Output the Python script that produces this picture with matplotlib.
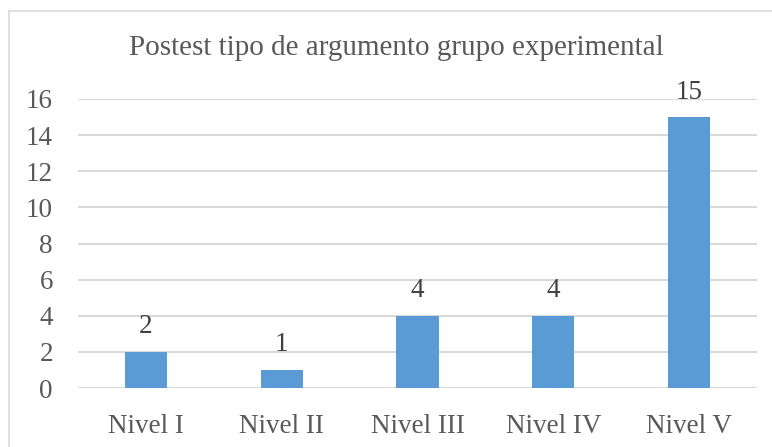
import matplotlib.pyplot as plt
from matplotlib.lines import Line2D

categories = ["Nivel I", "Nivel II", "Nivel III", "Nivel IV", "Nivel V"]
values = [2, 1, 4, 4, 15]
title = "Postest tipo de argumento grupo experimental"

plt.rcParams["font.family"] = ["Liberation Serif", "DejaVu Serif"]

fig = plt.figure(figsize=(7.72, 4.47), dpi=100)
ax = fig.add_axes([78 / 772, 1 - 388 / 447, 679 / 772, 289 / 447])

x = range(len(categories))
bars = ax.bar(x, values, width=0.31, color="#5B9BD5", zorder=3)
for b, v in zip(bars, values):
    ax.annotate(str(v), (b.get_x() + b.get_width() / 2, v), xytext=(0, 9),
                textcoords="offset points", ha="center", va="bottom",
                fontsize=19.5, color="#404040")

ax.set_xlim(-0.5, len(categories) - 0.5)
ax.set_ylim(0, 16)
ax.set_yticks(range(0, 17, 2))
ax.set_xticks(list(x))
ax.set_xticklabels(categories)
ax.tick_params(axis="both", length=0, labelsize=19.5, labelcolor="#595959")
ax.tick_params(axis="y", pad=18)
ax.tick_params(axis="x", pad=18.5)
ax.grid(axis="y", color="#D9D9D9", linewidth=1.5, zorder=0)
for s in ax.spines.values():
    s.set_visible(False)

fig.text(396 / 772, 1 - 48 / 447, title, ha="center", va="center",
         fontsize=21, color="#595959")

# outer chart border (left and top edges visible in the crop)
fig.add_artist(Line2D([9 / 772, 9 / 772], [0, 1 - 11 / 447], color="#D9D9D9",
                      linewidth=1.2, transform=fig.transFigure))
fig.add_artist(Line2D([9 / 772, 1], [1 - 11 / 447, 1 - 11 / 447], color="#D9D9D9",
                      linewidth=1.2, transform=fig.transFigure))

fig.savefig("out.png", dpi=100)
